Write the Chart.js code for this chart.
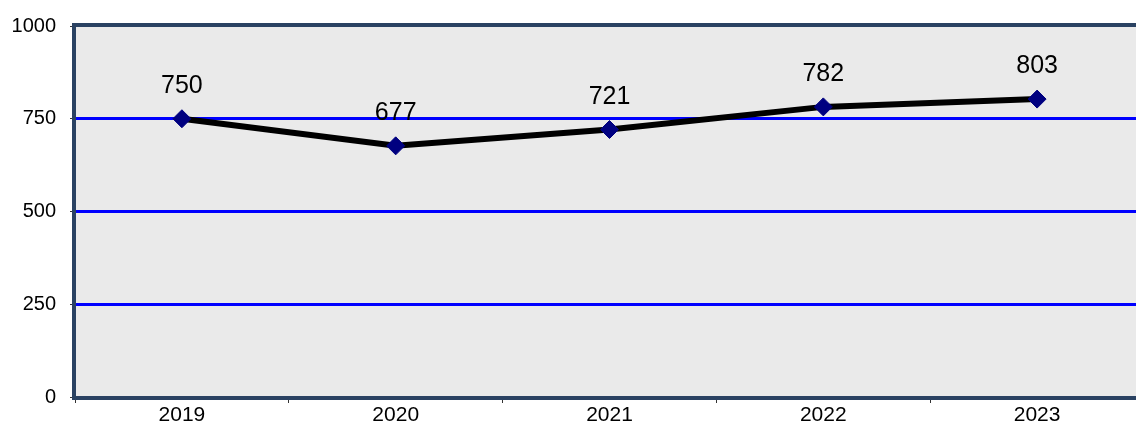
<!DOCTYPE html>
<html>
<head>
<meta charset="utf-8">
<script src="https://cdn.jsdelivr.net/npm/chart.js@4.4.1/dist/chart.umd.min.js"></script>
<style>
  html, body { margin: 0; padding: 0; background: #ffffff; overflow: hidden; }
  #wrap { width: 1136px; height: 423px; position: relative; }
</style>
</head>
<body>
<div id="wrap"><canvas id="c"></canvas></div>
<script>
const categories = ['2019', '2020', '2021', '2022', '2023'];
const values = [750, 677, 721, 782, 803];
const yTicks = [0, 250, 500, 750, 1000];

// The reference plot area runs past the right edge of the picture.
const PLOT_RIGHT = 1144;

const plotDecor = {
  id: 'plotDecor',
  afterLayout(chart) {
    const x = chart.scales.x;
    chart.chartArea.right = PLOT_RIGHT;
    chart.chartArea.width = PLOT_RIGHT - chart.chartArea.left;
    x.right = PLOT_RIGHT;
    x.width = PLOT_RIGHT - x.left;
    x.configure();
    const y = chart.scales.y;
    y.configure();
  },
  beforeDraw(chart) {
    const a = chart.chartArea, ctx = chart.ctx;
    ctx.save();
    ctx.fillStyle = '#eaeaea';
    ctx.fillRect(a.left, a.top, a.right - a.left, a.bottom - a.top);
    ctx.restore();
  },
  beforeDatasetsDraw(chart) {
    const a = chart.chartArea, ctx = chart.ctx;
    ctx.save();
    ctx.strokeStyle = '#2a4262';
    ctx.lineWidth = 4;
    ctx.strokeRect(a.left - 1, a.top - 1, a.right - a.left + 2, a.bottom - a.top + 2);
    ctx.restore();
  },
  afterDatasetsDraw(chart) {
    const ctx = chart.ctx;
    const meta = chart.getDatasetMeta(0);
    ctx.save();
    ctx.fillStyle = '#000000';
    ctx.font = '25px "Liberation Sans", Arial, sans-serif';
    ctx.textAlign = 'center';
    ctx.textBaseline = 'alphabetic';
    meta.data.forEach((pt, i) => {
      ctx.fillText(String(values[i]), pt.x, pt.y - 26);
    });
    ctx.restore();
  }
};

new Chart(document.getElementById('c'), {
  type: 'line',
  data: {
    labels: categories,
    datasets: [{
      data: values,
      borderColor: '#000000',
      borderWidth: 6,
      tension: 0,
      pointStyle: 'rectRot',
      pointRadius: 9,
      pointHoverRadius: 9,
      pointBackgroundColor: '#000080',
      pointBorderColor: '#000080',
      pointBorderWidth: 1
    }]
  },
  options: {
    responsive: true,
    maintainAspectRatio: false,
    animation: false,
    events: [],
    layout: { padding: { top: 23, right: 0, left: 0, bottom: 0 } },
    plugins: { legend: { display: false }, tooltip: { enabled: false } },
    scales: {
      x: {
        offset: true,
        grid: {
          offset: true,
          drawOnChartArea: false,
          tickLength: 6,
          tickColor: '#333333',
          tickWidth: 1
        },
        border: { display: false },
        ticks: {
          color: '#000000',
          font: { family: '"Liberation Sans", Arial, sans-serif', size: 21 },
          padding: 0,
          maxRotation: 0
        },
        afterFit(scale) { scale.height = 26; }
      },
      y: {
        min: 0,
        max: 1000,
        afterBuildTicks(scale) { scale.ticks = yTicks.map(v => ({ value: v })); },
        grid: {
          color: (c) => (c.tick && c.tick.value > 0 && c.tick.value < 1000) ? '#0000ff' : 'rgba(0,0,0,0)',
          lineWidth: 3,
          tickLength: 5,
          tickColor: '#333333',
          tickWidth: 1
        },
        border: { display: false },
        ticks: {
          color: '#000000',
          font: { family: '"Liberation Sans", Arial, sans-serif', size: 20 },
          padding: 14,
          callback: (v) => String(v)
        },
        afterFit(scale) { scale.width = 75; }
      }
    }
  },
  plugins: [plotDecor]
});
</script>
</body>
</html>
